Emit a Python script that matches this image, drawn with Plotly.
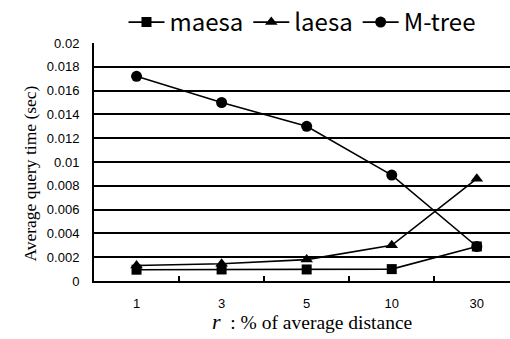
import plotly.graph_objects as go

categories = ["1", "3", "5", "10", "30"]
maesa = [0.00095, 0.00097, 0.00097, 0.0010, 0.0029]
laesa = [0.0013, 0.00145, 0.0018, 0.0030, 0.0086]
mtree = [0.0172, 0.0150, 0.0130, 0.0089, 0.0029]
ytick_vals = [0, 0.002, 0.004, 0.006, 0.008, 0.01, 0.012, 0.014, 0.016, 0.018, 0.02]
ytick_text = ["0", "0.002", "0.004", "0.006", "0.008", "0.01", "0.012", "0.014", "0.016", "0.018", "0.02"]

fig = go.Figure()
line = dict(color="black", width=1.6)
fig.add_trace(go.Scatter(x=categories, y=mtree, name="M-tree", mode="lines+markers",
                         line=line, marker=dict(symbol="circle", size=11, color="black"),
                         legendrank=3))
fig.add_trace(go.Scatter(x=categories, y=laesa, name="laesa", mode="lines+markers",
                         line=line, marker=dict(symbol="triangle-up", size=11, color="black"),
                         legendrank=2))
fig.add_trace(go.Scatter(x=categories, y=maesa, name="maesa", mode="lines+markers",
                         line=line, marker=dict(symbol="square", size=10, color="black"),
                         legendrank=1))

fig.update_layout(
    width=510, height=339,
    margin=dict(l=94, r=0, t=37, b=58),
    plot_bgcolor="white", paper_bgcolor="white",
    showlegend=True,
    legend=dict(orientation="h", x=0.5, xanchor="center", y=1.088, yanchor="middle",
                font=dict(family="Noto Sans CJK JP", size=24, color="black"),
                itemwidth=36, tracegroupgap=0, bgcolor="rgba(0,0,0,0)"),
    xaxis=dict(type="category", range=[-0.5, 4.39], showgrid=False,
               showline=True, linecolor="black", linewidth=2,
               ticks="inside", tickson="boundaries", ticklen=5, tickwidth=1.5, tickcolor="black",
               tickfont=dict(family="Liberation Sans", size=13, color="black"),
               ticklabelstandoff=9),
    yaxis=dict(range=[0, 0.02], tickvals=ytick_vals, ticktext=ytick_text,
               showgrid=True, gridcolor="black", gridwidth=1.7,
               showline=True, linecolor="black", linewidth=2, zeroline=False,
               ticks="", tickfont=dict(family="Liberation Sans", size=13, color="black"),
               ticklabelstandoff=10),
    annotations=[
        dict(text="Average query time (sec)", xref="paper", yref="paper",
             x=-0.154, y=0.451, xanchor="center", yanchor="middle", textangle=-90,
             showarrow=False, font=dict(family="Liberation Serif", size=17.5, color="black")),
        dict(text="<i><span style='font-size:22px'>r</span></i>  : % of average distance",
             xref="paper", yref="paper",
             x=0.525, y=-0.172, xanchor="center", yanchor="middle",
             showarrow=False, font=dict(family="Liberation Serif", size=19.5, color="black")),
    ],
)

fig.write_html("out.html")
